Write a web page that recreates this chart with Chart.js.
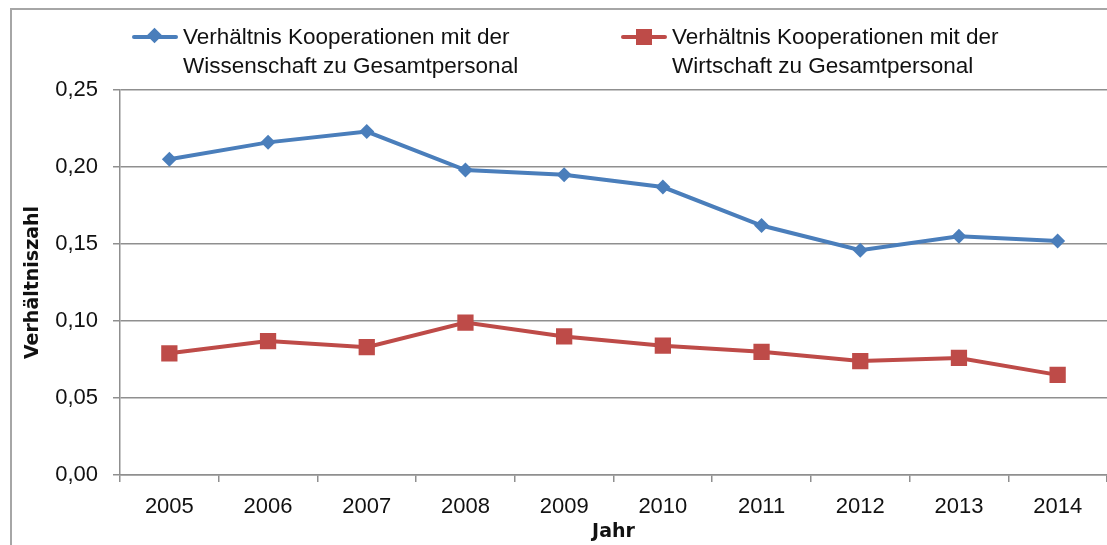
<!DOCTYPE html>
<html>
<head>
<meta charset="utf-8">
<script src="https://cdn.jsdelivr.net/npm/chart.js@4/dist/chart.umd.min.js"></script>
<style>
  html, body { margin: 0; padding: 0; background: #fff; }
  #wrap { position: relative; width: 1107px; height: 545px; overflow: hidden; }
  #frame { position: absolute; left: 10px; top: 8px; width: 1200px; height: 600px;
           border-left: 2px solid #a6a6a6; border-top: 2px solid #a6a6a6; pointer-events: none; }
  .legend-item { position: absolute; font-family: "Liberation Sans", Arial, sans-serif;
                 font-size: 22.5px; line-height: 29px; color: #111; }
  .legend-item .txt { position: absolute; white-space: nowrap; }
  .legend-item .ln { position: absolute; height: 4px; border-radius: 2px; }
  .legend-item .mk { position: absolute; }
</style>
</head>
<body>
<div id="wrap">
  <canvas id="chart" width="1107" height="545"></canvas>
  <div id="frame"></div>
  <div class="legend-item" id="leg-0" style="left:132px; top:22px;">
    <div class="ln" style="left:0; top:13px; width:46px; background:#4a7ebb;"></div>
    <div class="mk" style="left:17px; top:8px; width:11px; height:11px; background:#4a7ebb; transform:rotate(45deg);"></div>
    <div class="txt" style="left:51px; top:0;">Verhältnis Kooperationen mit der<br>Wissenschaft zu Gesamtpersonal</div>
  </div>
  <div class="legend-item" id="leg-1" style="left:621px; top:22px;">
    <div class="ln" style="left:0; top:13px; width:46px; background:#be4b48;"></div>
    <div class="mk" style="left:15px; top:7px; width:16px; height:16px; background:#be4b48;"></div>
    <div class="txt" style="left:51px; top:0;">Verhältnis Kooperationen mit der<br>Wirtschaft zu Gesamtpersonal</div>
  </div>
</div>
<script>
// Values
const years = ['2005', '2006', '2007', '2008', '2009', '2010', '2011', '2012', '2013', '2014'];
const wissenschaft = [0.205, 0.216, 0.223, 0.198, 0.195, 0.187, 0.162, 0.146, 0.155, 0.152];
const wirtschaft = [0.079, 0.087, 0.083, 0.099, 0.090, 0.084, 0.080, 0.074, 0.076, 0.065];
const seriesNames = [
  'Verhältnis Kooperationen mit der Wissenschaft zu Gesamtpersonal',
  'Verhältnis Kooperationen mit der Wirtschaft zu Gesamtpersonal'
];
const yTicks = [0, 0.05, 0.10, 0.15, 0.20, 0.25];

const gridColor = '#8f8f8f';
const tickFont = { family: '"Liberation Sans", Arial, sans-serif', size: 22 };
const titleFont = { family: '"DejaVu Sans", sans-serif', size: 19, weight: 'bold' };

const ctx = document.getElementById('chart').getContext('2d');

new Chart(ctx, {
  type: 'line',
  data: {
    labels: years,
    datasets: [
      {
        label: seriesNames[0],
        data: wissenschaft,
        borderColor: '#4a7ebb',
        backgroundColor: '#4a7ebb',
        borderWidth: 4,
        pointStyle: 'rectRot',
        pointRadius: 7.5,
        pointBorderWidth: 0,
        tension: 0
      },
      {
        label: seriesNames[1],
        data: wirtschaft,
        borderColor: '#be4b48',
        backgroundColor: '#be4b48',
        borderWidth: 4,
        pointStyle: 'rect',
        pointRadius: 11.5,
        pointBorderWidth: 0,
        tension: 0
      }
    ]
  },
  options: {
    responsive: false,
    animation: false,
    layout: { autoPadding: false, padding: { top: 90, right: 0, bottom: 0, left: 0 } },
    plugins: {
      legend: { display: false },
      tooltip: { enabled: false }
    },
    scales: {
      x: {
        offset: true,
        afterFit: (scale) => {
          scale.height = 70;
          scale.paddingRight = 0;
          scale.paddingLeft = 0;
        },
        grid: {
          offset: true,
          drawOnChartArea: false,
          drawTicks: true,
          tickLength: 7,
          color: gridColor,
          lineWidth: 1.5
        },
        border: { display: true, color: gridColor, width: 1.5 },
        ticks: { color: '#111', font: tickFont, padding: 12, maxRotation: 0 },
        title: {
          display: true,
          text: 'Jahr',
          color: '#111',
          font: titleFont,
          padding: { top: 0, bottom: 2 }
        }
      },
      y: {
        min: 0,
        max: 0.25,
        afterFit: (scale) => { scale.width = 120; },
        afterBuildTicks: (scale) => { scale.ticks = yTicks.map(v => ({ value: v })); },
        grid: {
          color: gridColor,
          lineWidth: 1.5,
          drawTicks: true,
          tickLength: 7
        },
        border: { display: true, color: gridColor, width: 1.5 },
        ticks: {
          color: '#111',
          font: tickFont,
          padding: 15,
          callback: (v) => v.toFixed(2).replace('.', ',')
        },
        title: {
          display: true,
          text: 'Verhältniszahl',
          color: '#111',
          font: titleFont,
          padding: { top: 22, bottom: 0 }
        }
      }
    }
  }
});
</script>
</body>
</html>
